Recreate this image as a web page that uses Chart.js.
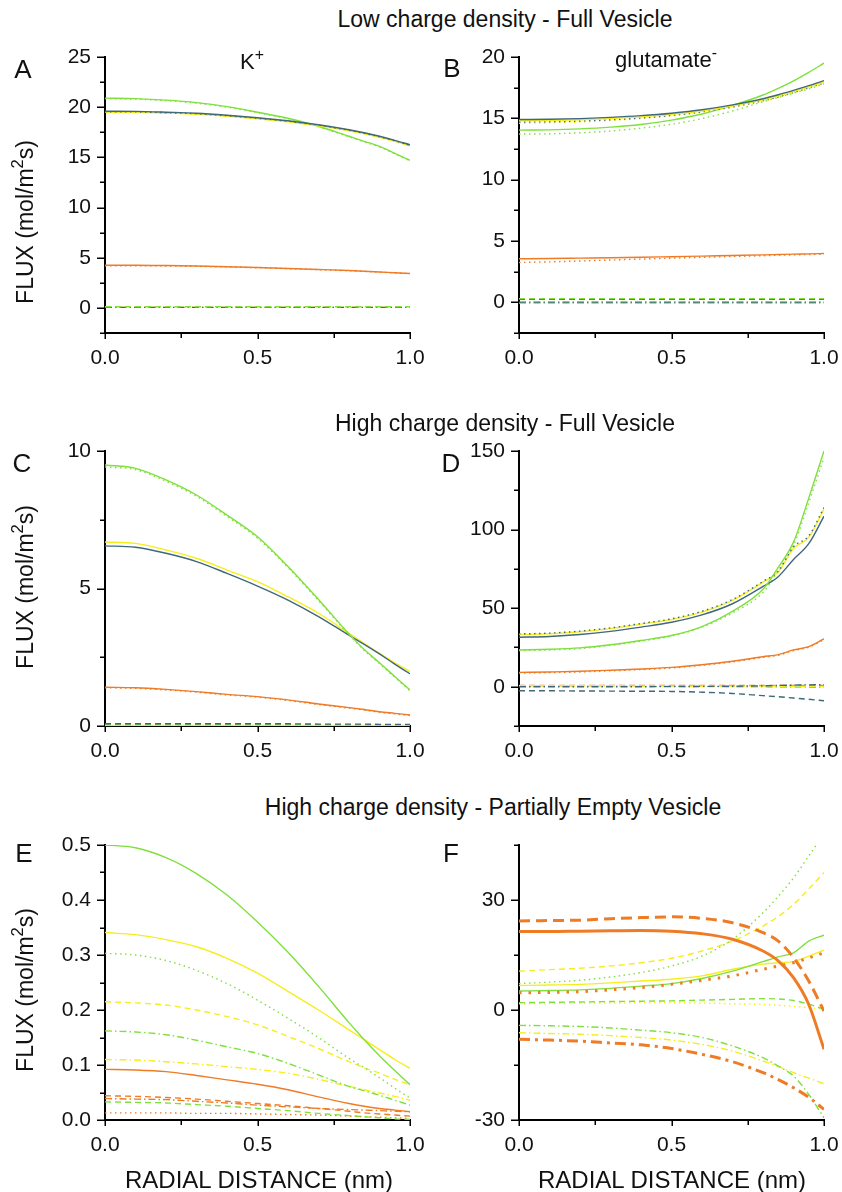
<!DOCTYPE html>
<html><head><meta charset="utf-8">
<script src="https://cdn.jsdelivr.net/npm/chart.js@4.4.1/dist/chart.umd.min.js"></script>
<style>
html,body{margin:0;padding:0;background:#fff;}
#wrap{position:relative;width:842px;height:1192px;overflow:hidden;font-family:"Liberation Sans",Arial,sans-serif;color:#111;}
canvas{position:absolute;}
.t{position:absolute;white-space:nowrap;line-height:1;}
.t sup{font-size:0.72em;line-height:0;vertical-align:0.55em;}
</style></head><body><div id="wrap"></div>
<script>
// radial distance samples (nm)
const xs = [0,0.1,0.2,0.3,0.4,0.5,0.6,0.7,0.8,0.85,0.9,0.95,1.0];

// tick labels
const xTickLabels = ['0.0','0.5','1.0'];
const aYLabels = ['0','5','10','15','20','25'];
const bYLabels = ['0','5','10','15','20'];
const cYLabels = ['0','5','10'];
const dYLabels = ['0','50','100','150'];
const eYLabels = ['0.0','0.1','0.2','0.3','0.4','0.5'];
const fYLabels = ['-30','0','30'];

// Panel A: K+, low charge density, full vesicle
const aGreenSolid = [20.9,20.85,20.7,20.45,20.05,19.5,18.9,18.1,17.1,16.6,16.1,15.4,14.7];
const aGreenDot   = [20.85,20.8,20.65,20.4,20.0,19.45,18.85,18.05,17.05,16.55,16.05,15.35,14.65];
const aSlateSolid = [19.6,19.58,19.5,19.4,19.2,18.95,18.65,18.25,17.75,17.45,17.1,16.7,16.25];
const aSlateDot   = [19.55,19.53,19.45,19.35,19.15,18.9,18.6,18.2,17.7,17.4,17.05,16.65,16.2];
const aYellowSolid= [19.5,19.48,19.4,19.3,19.1,18.85,18.55,18.15,17.65,17.35,17.0,16.6,16.15];
const aOrangeSolid= [4.25,4.25,4.22,4.17,4.1,4.02,3.93,3.83,3.72,3.65,3.58,3.5,3.43];
const aOrangeDot  = [4.2,4.2,4.18,4.14,4.08,4.0,3.91,3.81,3.7,3.64,3.57,3.49,3.42];
const aGreenDash  = [0.12,0.12,0.12,0.12,0.12,0.12,0.12,0.12,0.12,0.12,0.12,0.12,0.12];
const aSlateDashDot=[0.05,0.05,0.05,0.05,0.05,0.05,0.05,0.05,0.05,0.05,0.05,0.05,0.05];
const aYellowDashDot=[0.08,0.08,0.08,0.08,0.08,0.08,0.08,0.08,0.08,0.08,0.08,0.08,0.08];

// Panel B: glutamate-, low charge density, full vesicle
const bGreenSolid = [14.04,14.06,14.14,14.28,14.5,14.85,15.35,16.05,16.9,17.45,18.05,18.75,19.5];
const bGreenDot   = [13.72,13.74,13.82,13.97,14.2,14.52,14.98,15.6,16.35,16.7,17.05,17.4,17.8];
const bSlateSolid = [14.9,14.92,14.98,15.08,15.22,15.42,15.7,16.1,16.6,16.92,17.28,17.66,18.08];
const bSlateDot   = [14.7,14.72,14.78,14.88,15.03,15.24,15.53,15.93,16.44,16.76,17.12,17.5,17.9];
const bYellowSolid= [14.8,14.82,14.88,14.98,15.12,15.32,15.6,16.0,16.5,16.82,17.18,17.56,17.95];
const bYellowDot  = [14.6,14.63,14.7,14.82,14.98,15.2,15.5,15.9,16.4,16.72,17.08,17.45,17.85];
const bOrangeSolid= [3.55,3.57,3.6,3.63,3.67,3.72,3.77,3.82,3.87,3.9,3.93,3.95,3.98];
const bOrangeDot  = [3.25,3.3,3.37,3.45,3.53,3.6,3.67,3.74,3.8,3.84,3.87,3.9,3.93];
const bGreenDash  = [0.3,0.3,0.3,0.3,0.3,0.3,0.3,0.3,0.3,0.3,0.3,0.3,0.3];
const bSlateDash  = [0.25,0.25,0.25,0.25,0.25,0.25,0.25,0.25,0.25,0.25,0.25,0.25,0.25];
const bSlateDashDot=[0.02,0.02,0.02,0.02,0.02,0.02,0.02,0.02,0.02,0.02,0.02,0.02,0.02];
const bGreenDashDot=[-0.05,-0.05,-0.05,-0.05,-0.05,-0.05,-0.05,-0.05,-0.05,-0.05,-0.05,-0.05,-0.05];

// Panel C: K+, high charge density, full vesicle
const cGreenSolid = [9.49,9.37,8.95,8.4,7.67,6.88,5.8,4.6,3.35,2.78,2.3,1.8,1.31];
const cGreenDot   = [9.42,9.32,8.9,8.35,7.62,6.83,5.76,4.56,3.32,2.75,2.27,1.77,1.28];
const cYellowSolid= [6.69,6.64,6.4,6.1,5.67,5.25,4.7,4.1,3.37,3.0,2.64,2.3,1.98];
const cSlateSolid = [6.55,6.5,6.28,5.98,5.55,5.09,4.58,3.98,3.3,2.97,2.62,2.25,1.9];
const cOrangeSolid= [1.41,1.39,1.33,1.25,1.15,1.07,0.95,0.8,0.67,0.6,0.52,0.46,0.4];
const cOrangeDot  = [1.39,1.37,1.31,1.23,1.13,1.05,0.93,0.78,0.65,0.58,0.5,0.44,0.38];
const cSlateDash  = [0.08,0.08,0.08,0.08,0.08,0.08,0.08,0.07,0.07,0.07,0.06,0.06,0.06];
const cGreenDash  = [0.05,0.05,0.05,0.05,0.05,0.05,0.05,0.05,0.04,0.04,0.04,0.04,0.04];
const cYellowZero = [0.02,0.02,0.02,0.02,0.02,0.02,0.02,0.02,0.02,0.02,0.02,0.02,0.02];

// Panel D: glutamate-, high charge density, full vesicle
const dGreenSolid = [23.4,23.8,24.7,26.7,29.4,32.6,38.3,48,62,76,92,120,150];
const dGreenDot   = [23.0,23.4,24.3,26.3,29.0,32.2,37.9,47,60,74,90,117,146];
const dSlateSolid = [31.5,32,33.2,35.2,37.9,41,45.7,52.8,63.8,70,81,91,108.5];
const dYellowSolid= [33.2,33.7,35,37,39.8,42.8,47.5,55,66.5,73,88,95,113];
const dSlateDot   = [33.6,34.1,35.4,37.4,40.2,43.2,48,55.5,67,73.5,89,96,114];
const dOrangeSolid= [9.1,9.4,9.8,10.5,11.3,12.3,14,16.2,19.1,20.4,23.4,25.5,30.4];
const dOrangeDot  = [8.7,9.0,9.4,10.1,10.9,11.9,13.6,15.8,18.7,20.0,23.0,25.1,30.0];
const dSlateDash  = [-2.6,-2.6,-2.7,-2.8,-2.9,-3.0,-3.5,-4.3,-5.7,-6.4,-7.2,-8.0,-8.9];
const dSlateDashDot=[0,0,0,0,0,0.1,0.2,0.3,0.6,0.8,1.0,1.2,1.3];
const dYellowDash = [0.6,0.6,0.6,0.6,0.5,0.5,0.5,0.4,0.4,0.3,0.3,0.2,0.2];
const dGreenDashDot=[0.3,0.3,0.3,0.3,0.2,0.2,0.1,0.0,-0.1,-0.2,-0.2,-0.3,-0.3];
const dOrangeDash = [0.8,0.8,0.8,0.8,0.8,0.8,0.8,0.8,0.8,0.8,0.8,0.8,0.8];

// Panel E: high charge density, partially empty vesicle (K+)
const eGreenSolid = [0.5,0.495,0.477,0.448,0.409,0.36,0.305,0.243,0.177,0.146,0.117,0.09,0.064];
const eYellowSolid= [0.341,0.337,0.328,0.315,0.294,0.267,0.234,0.2,0.164,0.146,0.128,0.11,0.094];
const eGreenDot   = [0.303,0.3,0.29,0.272,0.248,0.218,0.185,0.15,0.112,0.095,0.077,0.058,0.04];
const eYellowDash = [0.215,0.213,0.209,0.2,0.188,0.173,0.152,0.13,0.106,0.095,0.085,0.074,0.064];
const eGreenDashDot=[0.162,0.16,0.155,0.145,0.133,0.121,0.103,0.082,0.061,0.053,0.045,0.036,0.027];
const eYellowDashDot=[0.11,0.109,0.106,0.102,0.097,0.092,0.085,0.074,0.061,0.055,0.049,0.043,0.036];
const eOrangeSolid= [0.092,0.091,0.088,0.081,0.073,0.065,0.055,0.042,0.03,0.025,0.021,0.018,0.015];
const eOrangeDash = [0.044,0.043,0.041,0.038,0.034,0.03,0.026,0.021,0.016,0.013,0.011,0.009,0.007];
const eOrangeDashDot=[0.039,0.038,0.037,0.034,0.031,0.027,0.024,0.021,0.019,0.018,0.017,0.016,0.015];
const eGreenDash  = [0.033,0.032,0.031,0.028,0.025,0.021,0.017,0.012,0.008,0.006,0.004,0.002,0.001];
const eYellowDot  = [0.013,0.013,0.013,0.012,0.012,0.011,0.01,0.009,0.007,0.006,0.005,0.004,0.003];

// Panel F: high charge density, partially empty vesicle (glutamate-)
const fOrangeDash = [24.3,24.4,24.5,24.9,25.2,25.4,25,23.8,21.1,18.8,14.3,7.9,-0.3];
const fOrangeSolid= [21.4,21.4,21.5,21.6,21.7,21.5,20.8,19.3,16.1,13.4,8.8,1.5,-10.7];
const fOrangeDot  = [4.7,4.8,5,5.5,6.1,7,8.1,9.3,11.1,12,12.9,14.2,15.6];
const fGreenDot   = [7.2,7.6,8.1,9,10.2,12,14.7,19.3,26.5,31,36,42,48];
const fYellowDash = [10.6,11,11.4,12,12.9,14.1,16.1,18.8,22.9,25.5,28.8,33,37.5];
const fGreenSolid = [5.2,5.3,5.5,5.9,6.5,7.2,8.6,10.6,13.2,14.5,15.6,18.8,20.4];
const fYellowSolid= [6.7,6.8,7,7.4,7.9,8.4,9.3,11.1,12.5,12.9,13.2,14.7,16.3];
const fGreenDash  = [2,2.1,2.2,2.3,2.4,2.5,2.7,2.9,3.1,3,2.6,1.6,0.2];
const fYellowDot  = [1.7,1.8,1.9,1.9,2,2,1.9,1.7,1.5,1.3,1.0,0.6,0.2];
const fGreenDashDot=[-4.2,-4.3,-4.5,-4.9,-5.5,-6.2,-7.5,-9.8,-13,-15.3,-18,-23,-29.4];
const fYellowDashDot=[-6.2,-6.4,-6.6,-7,-7.5,-8.2,-9.4,-11.2,-13.9,-15.4,-17.1,-18.6,-20.1];
const fOrangeDashDot=[-8,-8.2,-8.5,-9,-9.5,-10.5,-12.1,-14.1,-17.1,-19,-21.2,-23.8,-27.1];

const GREEN='#7fe03c', YELLOW='#f6ee1c', SLATE='#3f6879', ORANGE='#ef7b25';
const DASH = {solid:[], dot:[1.5,3.5], dash:[6,4], dashdot:[7,3,1.5,3]};
const DASH_THICK = {solid:[], dot:[2.5,7], dash:[11,6], dashdot:[11,5,3,5]};
function ds(label, ys, color, style, thick){
  return {label, data: ys.map((y,i)=>({x:xs[i], y})), borderColor:color,
    borderWidth: thick?3:1.4, borderDash:(thick?DASH_THICK:DASH)[style],
    pointRadius:0, fill:false, tension:0.4, cubicInterpolationMode:'monotone'};
}

const panels = [
 {left:0, top:40, width:440, height:335, padTop:17, padRight:30, yWidth:105, xHeight:42,
  ymin:-2.5, ymax:25, ystep:2.5, yLabels:aYLabels, sets:[
   ds('slate total',aSlateSolid,SLATE,'solid'), ds('slate dotted',aSlateDot,SLATE,'dot'),
   ds('yellow total',aYellowSolid,YELLOW,'solid'), ds('green total',aGreenSolid,GREEN,'solid'),
   ds('green dotted',aGreenDot,GREEN,'dot'), ds('orange total',aOrangeSolid,ORANGE,'solid'),
   ds('orange dotted',aOrangeDot,ORANGE,'dot'), ds('green dashed',aGreenDash,GREEN,'dash'),
   ds('slate dash-dot',aSlateDashDot,SLATE,'dashdot'), ds('yellow dash-dot',aYellowDashDot,YELLOW,'dashdot')]},
 {left:420, top:40, width:422, height:335, padTop:17, padRight:18, yWidth:99, xHeight:42,
  ymin:-2.5, ymax:20, ystep:2.5, yLabels:bYLabels, sets:[
   ds('slate total',bSlateSolid,SLATE,'solid'), ds('yellow total',bYellowSolid,YELLOW,'solid'),
   ds('slate dotted',bSlateDot,SLATE,'dot'), ds('yellow dotted',bYellowDot,YELLOW,'dot'),
   ds('green total',bGreenSolid,GREEN,'solid'), ds('green dotted',bGreenDot,GREEN,'dot'),
   ds('orange total',bOrangeSolid,ORANGE,'solid'), ds('orange dotted',bOrangeDot,ORANGE,'dot'),
   ds('green dashed',bGreenDash,GREEN,'dash'), ds('slate dashed',bSlateDash,SLATE,'dash'),
   ds('slate dash-dot',bSlateDashDot,SLATE,'dashdot'), ds('green dash-dot',bGreenDashDot,GREEN,'dashdot')]},
 {left:0, top:435, width:440, height:335, padTop:16, padRight:30, yWidth:105, xHeight:44,
  ymin:0, ymax:10, ystep:2.5, yLabels:cYLabels, sets:[
   ds('green total',cGreenSolid,GREEN,'solid'), ds('green dotted',cGreenDot,GREEN,'dot'),
   ds('slate total',cSlateSolid,SLATE,'solid'), ds('yellow total',cYellowSolid,YELLOW,'solid'),
   ds('orange total',cOrangeSolid,ORANGE,'solid'), ds('orange dotted',cOrangeDot,ORANGE,'dot'),
   ds('slate dashed',cSlateDash,SLATE,'dash'), ds('green dashed',cGreenDash,GREEN,'dash'),
   ds('yellow near zero',cYellowZero,YELLOW,'solid')]},
 {left:420, top:435, width:422, height:335, padTop:16, padRight:18, yWidth:99, xHeight:44,
  ymin:-25, ymax:150, ystep:25, yLabels:dYLabels, sets:[
   ds('green total',dGreenSolid,GREEN,'solid'), ds('slate dotted',dSlateDot,SLATE,'dot'),
   ds('yellow total',dYellowSolid,YELLOW,'solid'), ds('slate total',dSlateSolid,SLATE,'solid'),
   ds('green dotted',dGreenDot,GREEN,'dot'), ds('orange total',dOrangeSolid,ORANGE,'solid'),
   ds('orange dotted',dOrangeDot,ORANGE,'dot'), ds('slate dashed',dSlateDash,SLATE,'dash'),
   ds('slate dash-dot',dSlateDashDot,SLATE,'dashdot'), ds('yellow dashed',dYellowDash,YELLOW,'dash'),
   ds('green dash-dot',dGreenDashDot,GREEN,'dashdot'), ds('orange dashed',dOrangeDash,ORANGE,'dash')]},
 {left:0, top:830, width:440, height:340, padTop:15, padRight:30, yWidth:105, xHeight:50,
  ymin:0, ymax:0.5, ystep:0.05, yLabels:eYLabels, sets:[
   ds('green total',eGreenSolid,GREEN,'solid'), ds('yellow total',eYellowSolid,YELLOW,'solid'),
   ds('green dotted',eGreenDot,GREEN,'dot'), ds('yellow dashed',eYellowDash,YELLOW,'dash'),
   ds('green dash-dot',eGreenDashDot,GREEN,'dashdot'), ds('yellow dash-dot',eYellowDashDot,YELLOW,'dashdot'),
   ds('orange total',eOrangeSolid,ORANGE,'solid'), ds('orange dashed',eOrangeDash,ORANGE,'dash'),
   ds('orange dash-dot',eOrangeDashDot,ORANGE,'dashdot'), ds('green dashed',eGreenDash,GREEN,'dash'),
   ds('yellow dotted',eYellowDot,ORANGE,'dot')]},
 {left:420, top:830, width:422, height:340, padTop:15, padRight:18, yWidth:99, xHeight:50,
  ymin:-30, ymax:45, ystep:15, yLabels:fYLabels, sets:[
   ds('orange total',fOrangeSolid,ORANGE,'solid',true), ds('orange dashed',fOrangeDash,ORANGE,'dash',true),
   ds('orange dotted',fOrangeDot,ORANGE,'dot',true), ds('orange dash-dot',fOrangeDashDot,ORANGE,'dashdot',true),
   ds('green total',fGreenSolid,GREEN,'solid'), ds('yellow total',fYellowSolid,YELLOW,'solid'),
   ds('green dotted',fGreenDot,GREEN,'dot'), ds('yellow dashed',fYellowDash,YELLOW,'dash'),
   ds('green dashed',fGreenDash,GREEN,'dash'), ds('yellow dotted',fYellowDot,YELLOW,'dot'),
   ds('green dash-dot',fGreenDashDot,GREEN,'dashdot'), ds('yellow dash-dot',fYellowDashDot,YELLOW,'dashdot')]}
];

function labelFor(labels, v){
  for (const l of labels) if (Math.abs(parseFloat(l) - v) < 1e-9) return l;
  return null;
}

const tickPlugin = {
  id:'axisTicks',
  afterDraw(chart){
    const o = chart.options.plugins.axisTicks;
    const {ctx, chartArea:ca} = chart;
    const xsS = chart.scales.x, ysS = chart.scales.y;
    ctx.save(); ctx.strokeStyle='#000'; ctx.lineWidth=1.5; ctx.beginPath();
    ysS.ticks.forEach(t=>{
      const py = Math.round(ysS.getPixelForValue(t.value))+0.25;
      const L = labelFor(o.yLabels, t.value)!==null ? 8 : 5;
      ctx.moveTo(ca.left, py); ctx.lineTo(ca.left - L, py);
    });
    xsS.ticks.forEach(t=>{
      const px = Math.round(xsS.getPixelForValue(t.value))+0.25;
      const L = labelFor(xTickLabels, t.value)!==null ? 6 : 5;
      ctx.moveTo(px, ca.bottom); ctx.lineTo(px, ca.bottom + L);
    });
    ctx.stroke(); ctx.restore();
  }
};

const wrap = document.getElementById('wrap');
const FONT = '"Liberation Sans", Arial, sans-serif';
panels.forEach(p=>{
  const c = document.createElement('canvas');
  c.width = p.width; c.height = p.height;
  c.style.left = p.left+'px'; c.style.top = p.top+'px';
  c.style.width = p.width+'px'; c.style.height = p.height+'px';
  wrap.appendChild(c);
  new Chart(c, {
    type:'line',
    data:{datasets:p.sets},
    plugins:[tickPlugin],
    options:{
      responsive:false, animation:false, devicePixelRatio:1,
      layout:{padding:{top:p.padTop, right:p.padRight, left:0, bottom:0}},
      plugins:{legend:{display:false}, tooltip:{enabled:false}, title:{display:false},
        axisTicks:{yLabels:p.yLabels}},
      scales:{
        x:{type:'linear', min:0, max:1,
          grid:{display:true, drawOnChartArea:false, tickLength:6, tickColor:'rgba(0,0,0,0)'},
          border:{display:true, color:'#000', width:2},
          ticks:{stepSize:0.25, autoSkip:false, maxRotation:0, padding:7, color:'#111',
            font:{family:FONT, size:21},
            callback:(v)=>{const l=labelFor(xTickLabels,v); return l===null?'':l;}},
          afterFit:(s)=>{s.height=p.xHeight; s.paddingLeft=0; s.paddingRight=0;}},
        y:{type:'linear', min:p.ymin, max:p.ymax,
          grid:{display:true, drawOnChartArea:false, tickLength:8, tickColor:'rgba(0,0,0,0)'},
          border:{display:true, color:'#000', width:2},
          ticks:{stepSize:p.ystep, autoSkip:false, padding:6, color:'#111',
            font:{family:FONT, size:21},
            callback:(v)=>{const l=labelFor(p.yLabels,v); return l===null?'':l;}},
          afterFit:(s)=>{s.width=p.yWidth; s.paddingTop=0; s.paddingBottom=0;}}
      }
    }
  });
});

// text: [html, centerX, baselineY, fontSize]
const texts = [
 ['Low charge density - Full Vesicle', 505, 27, 23],
 ['High charge density - Full Vesicle', 505, 431, 23],
 ['High charge density - Partially Empty Vesicle', 493, 815, 23],
 ['A', 23, 78, 26], ['B', 452, 77, 26], ['C', 22, 472, 26], ['D', 451, 472, 26],
 ['E', 24, 862, 26], ['F', 451, 862, 26],
 ['K<sup>+</sup>', 252, 70, 22], ['glutamate<sup>-</sup>', 666, 68, 22],
 ['RADIAL DISTANCE (nm)', 259, 1188, 24], ['RADIAL DISTANCE (nm)', 672, 1188, 24]
];
texts.forEach(([h,cx,bl,sz])=>{
  const d=document.createElement('div'); d.className='t'; d.innerHTML=h;
  d.style.fontSize=sz+'px'; d.style.left=cx+'px'; d.style.top=(bl-0.8465*sz)+'px';
  d.style.transform='translateX(-50%)';
  wrap.appendChild(d);
});
// rotated y-axis titles: [centerX, centerY]
const yTitles = [[25,222],[25,587],[25,990]];
yTitles.forEach(([cx,cy])=>{
  const d=document.createElement('div'); d.className='t'; d.innerHTML='FLUX (mol/m<sup>2</sup>s)';
  d.style.fontSize='23px'; d.style.left=cx+'px'; d.style.top=cy+'px';
  d.style.transform='translate(-50%,-50%) rotate(-90deg)';
  wrap.appendChild(d);
});
</script></body></html>
